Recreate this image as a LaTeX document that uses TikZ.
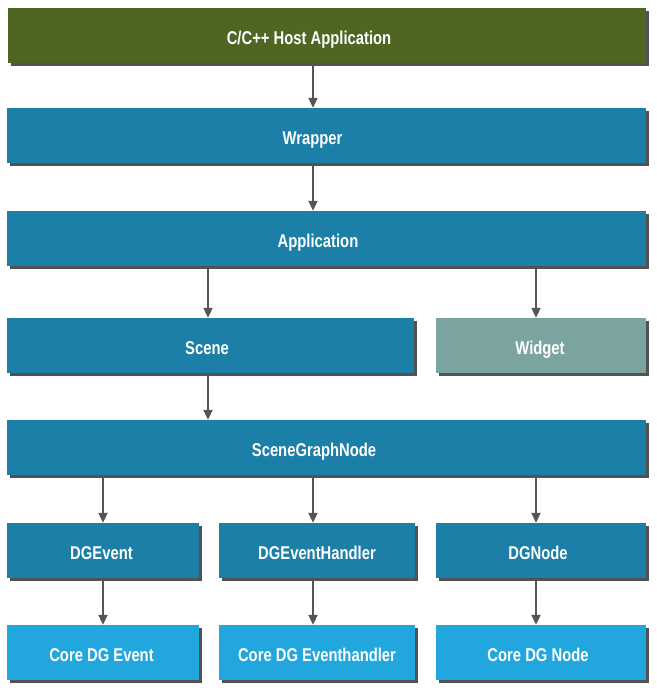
\documentclass[tikz,border=0pt]{standalone}
\usepackage{fontspec}
\setmainfont{Liberation Sans}[FakeStretch=0.8]
\usepackage{tikz}
\usetikzlibrary{arrows.meta,shadows}
\definecolor{hostgreen}{HTML}{4F6522}
\definecolor{layerblue}{HTML}{1B7FA8}
\definecolor{coreblue}{HTML}{22A6DE}
\definecolor{widgetgray}{HTML}{7BA39F}
\definecolor{arrowgray}{HTML}{555555}
\tikzset{
	box/.style={draw=none, fill=layerblue, inner sep=0pt, minimum height=55pt,
		drop shadow={shadow xshift=3pt, shadow yshift=-3pt, fill=black!68, opacity=1}},
	corebox/.style={box, fill=coreblue},
	tag/.style={text=white, inner sep=0pt, text height=13pt, text depth=4pt, yshift=-4.5pt,
		font=\bfseries\fontsize{18.5}{21}\selectfont},
	link/.style={line width=2pt, color=arrowgray, -{Triangle[length=10pt,width=9pt]}}
}

\begin{document}
\begin{tikzpicture}[x=1pt, y=-1pt]
		%%%%% START %%%%%
		\useasboundingbox (0, 0) rectangle (656, 690);
		
		\coordinate (colA) at (103, 0);
		\coordinate (colB) at (208, 0);
		\coordinate (colC) at (313, 0);
		\coordinate (colD) at (536, 0);
		
		\node[box, fill=hostgreen, minimum width=638pt, label={[tag, xshift=-18pt]center:C/C++ Host Application}] (host) at (327, 36) {};
		\node[box, minimum width=639pt, label={[tag, xshift=-14pt]center:Wrapper}] (wrapper) at (326.5, 135.5) {};
		\node[box, minimum width=639pt, label={[tag, xshift=-8.5pt]center:Application}] (app) at (326.5, 238.5) {};
		
		\node[box, minimum width=407pt, label={[tag, xshift=-3.5pt]center:Scene}] (scene) at (210.5, 345.5) {};
		\node[box, fill=widgetgray, minimum width=210pt, label={[tag, xshift=-1pt]center:Widget}] (widget) at (541, 345.5) {};
		
		\node[box, minimum width=639pt, label={[tag, xshift=-12.5pt]center:SceneGraphNode}] (sgnode) at (326.5, 447.5) {};
		
		\node[box, minimum width=192pt, label={[tag, xshift=-1.5pt]center:DGEvent}] (dgevent) at (103, 550.5) {};
		\node[box, minimum width=196pt, label={[tag]center:DGEventHandler}] (dghandler) at (317, 550.5) {};
		\node[box, minimum width=210pt, label={[tag, xshift=-3pt]center:DGNode}] (dgnode) at (541, 550.5) {};
		
		\node[corebox, minimum width=192pt, label={[tag, xshift=-1.5pt]center:Core DG Event}] (coreevent) at (103, 652.5) {};
		\node[corebox, minimum width=196pt, label={[tag]center:Core DG Eventhandler}] (corehandler) at (317, 652.5) {};
		\node[corebox, minimum width=210pt, label={[tag, xshift=-3pt]center:Core DG Node}] (corenode) at (541, 652.5) {};
		
		\draw[link] (host.south -| colC) -- (wrapper.north -| colC);
		\draw[link] (wrapper.south -| colC) -- (app.north -| colC);
		\draw[link] (app.south -| colB) -- (scene.north -| colB);
		\draw[link] (app.south -| colD) -- (widget.north -| colD);
		\draw[link] (scene.south -| colB) -- (sgnode.north -| colB);
		
		\draw[link] (sgnode.south -| colA) -- (dgevent.north -| colA);
		\draw[link] (sgnode.south -| colC) -- (dghandler.north -| colC);
		\draw[link] (sgnode.south -| colD) -- (dgnode.north -| colD);
		
		\draw[link] (dgevent.south -| colA) -- (coreevent.north -| colA);
		\draw[link] (dghandler.south -| colC) -- (corehandler.north -| colC);
		\draw[link] (dgnode.south -| colD) -- (corenode.north -| colD);
		%%%%% END %%%%%
	\end{tikzpicture}
\end{document}
